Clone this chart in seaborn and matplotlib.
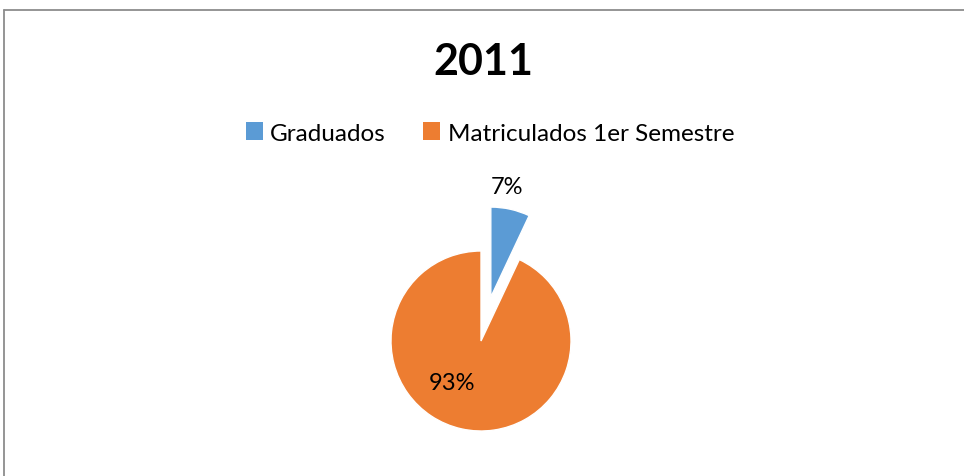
import matplotlib
matplotlib.use('Agg')
import matplotlib.pyplot as plt
import seaborn as sns
from matplotlib.lines import Line2D
from matplotlib.patches import Patch

# Data
categories = ['Graduados', 'Matriculados 1er Semestre']
values = [7, 93]
colors = ['#5B9BD5', '#ED7D31']
title = '2011'

sns.set_theme(style='white')
plt.rcParams['font.family'] = ['Lato', 'DejaVu Sans']
plt.rcParams['text.color'] = 'black'

W, H = 964, 477
fig = plt.figure(figsize=(W / 100, H / 100), dpi=100)
fig.patch.set_facecolor('white')

# pie axes: 1 data unit = 90 px, pie centre at (481, 342) px from top-left
R = 90
cx, cy = 481, H - 342
x0, x1, y0, y1 = -3.0, 3.0, -1.2, 2.2
ax = fig.add_axes([(cx + x0 * R) / W, (cy + y0 * R) / H,
                   (x1 - x0) * R / W, (y1 - y0) * R / H])

wedges, texts, autotexts = ax.pie(
    values, colors=colors, startangle=90, counterclock=False,
    explode=[0.5, 0], autopct='%1.0f%%', pctdistance=1.23,
    wedgeprops=dict(edgecolor='white', linewidth=1),
    textprops=dict(fontsize=17, color='black'), frame=True)
ax.set_xlim(x0, x1)
ax.set_ylim(y0, y1)
ax.set_aspect('equal')
ax.axis('off')
# label positions as Excel's best fit
autotexts[0].set_position((0.29, 1.72))
autotexts[1].set_position((-0.32, -0.46))

fig.text(483 / W, 1 - 62 / H, title, ha='center', va='center',
         fontsize=31, fontweight='bold', color='black')

handles = [Patch(facecolor=c, edgecolor='none') for c in colors]
leg = fig.legend(handles, categories, loc='center', bbox_to_anchor=(490 / W, 1 - 134 / H),
                 ncol=2, frameon=False, fontsize=17.5, handlelength=0.7, handleheight=0.7,
                 handletextpad=0.3, columnspacing=1.55)
for t in leg.get_texts():
    t.set_color('black')

# chart border (left and top visible in the crop)
fig.add_artist(Line2D([4 / W, 4 / W], [0, 1 - 11 / H], color='#8c8c8c', lw=1.3,
                      transform=fig.transFigure))
fig.add_artist(Line2D([4 / W, 1], [1 - 11 / H, 1 - 11 / H], color='#8c8c8c', lw=1.3,
                      transform=fig.transFigure))

fig.savefig('out.png', dpi=100)
